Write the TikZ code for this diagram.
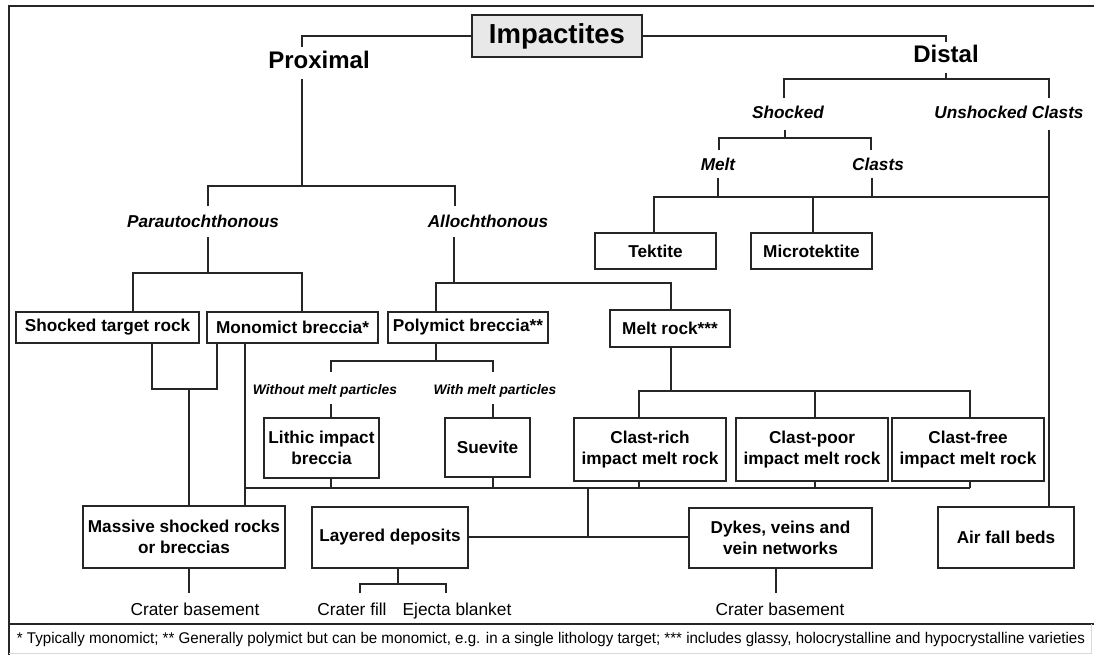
\documentclass[tikz,border=0pt]{standalone}
\usepackage{fontspec}
\setmainfont{Liberation Sans}
\usepackage{graphicx}
\begin{document}
\begin{tikzpicture}[x=1pt,y=-1pt,
  box/.style={draw=black!85, line width=1.5pt, inner sep=0pt, align=center,
    font=\bfseries\fontsize{17.2}{20.5}\selectfont},
  conn/.style={draw=black!85, line width=1.6pt},
  lbl/.style={font=\bfseries\itshape\fontsize{17.2}{20}\selectfont, anchor=base, inner sep=0pt},
  smalllbl/.style={font=\bfseries\itshape\fontsize{13.8}{16}\selectfont, anchor=base, inner sep=0pt},
  titlelbl/.style={font=\bfseries\fontsize{24}{28}\selectfont, anchor=base, inner sep=0pt},
  plainlbl/.style={font=\fontsize{17.3}{20}\selectfont, anchor=base, inner sep=0pt}]
\useasboundingbox (0,0) rectangle (1094,655);
\fill[white] (0,0) rectangle (1094,655);
% frame
\draw[line width=2pt, black!85] (1094,6) -- (9,6) -- (9,655);
\draw[line width=1.8pt, black!85] (9,624) -- (1094,624);
\draw[line width=1pt, black!15] (1091,624) -- (1091,653) -- (9,653);

% boxes
\node[box, fill=black!9, minimum width=170pt, minimum height=42pt,
  font=\bfseries\fontsize{27.5}{30}\selectfont] (impactites) at (557,36) {Impactites};
\node[box, minimum width=121pt, minimum height=36pt] (tektite) at (655.5,251) {Tektite};
\node[box, minimum width=121pt, minimum height=36pt] (microtektite) at (811.5,251) {Microtektite};
\node[box, minimum width=183pt, minimum height=31pt] (str) at (107.5,327.5) {Shocked target rock};
\node[box, minimum width=171pt, minimum height=31pt] (mono) at (292.5,327.5) {Monomict breccia*};
\node[box, minimum width=160pt, minimum height=31pt] (poly) at (468,327.5) {Polymict breccia**};
\node[box, minimum width=120pt, minimum height=37pt] (meltrock) at (670,328.5) {Melt rock***};
\node[box, minimum width=115pt, minimum height=60pt] (lithic) at (321.5,448) {Lithic impact\\breccia};
\node[box, minimum width=85pt, minimum height=59pt] (suevite) at (487.5,447.5) {Suevite};
\node[box, minimum width=152pt, minimum height=63pt] (crich) at (650,449.5) {Clast-rich\\impact melt rock};
\node[box, minimum width=152pt, minimum height=63pt] (cpoor) at (812,449.5) {Clast-poor\\impact melt rock};
\node[box, minimum width=152pt, minimum height=63pt] (cfree) at (968,449.5) {Clast-free\\impact melt rock};
\node[box, minimum width=202pt, minimum height=62pt] (massive) at (184,537) {Massive shocked rocks\\or breccias};
\node[box, minimum width=156pt, minimum height=61pt] (layered) at (390,537.5) {Layered deposits};
\node[box, minimum width=183pt, minimum height=60pt] (dykes) at (780.5,538) {Dykes, veins and\\vein networks};
\node[box, minimum width=136pt, minimum height=61pt] (airfall) at (1006,537.5) {Air fall beds};

% labels
\node[titlelbl] (proximal) at (319,68.5) {Proximal};
\node[titlelbl] (distal) at (946,63) {Distal};
\node[lbl] (shocked) at (788,119) {Shocked};
\node[lbl] (unshocked) at (1009,119) {Unshocked Clasts};
\node[lbl] (melt) at (718,171) {Melt};
\node[lbl] (clasts) at (878,171) {Clasts};
\node[lbl] (para) at (203,227) {Parautochthonous};
\node[lbl] (allo) at (488,227) {Allochthonous};
\node[smalllbl] (without) at (325,394) {Without melt particles};
\node[smalllbl] (with) at (495,394) {With melt particles};
\node[plainlbl] (basement1) at (195,615) {Crater basement};
\node[plainlbl] (fill) at (352,615) {Crater fill};
\node[plainlbl] (ejecta) at (457,615) {Ejecta blanket};
\node[plainlbl] (basement2) at (780,615) {Crater basement};
\node[anchor=base, inner sep=0pt] (footnote) at (551,643)
  {\resizebox{1068pt}{\height}{\fontsize{15.5}{17}\selectfont * Typically monomict; ** Generally polymict but can be monomict, e.g. in a single lithology target; *** includes glassy, holocrystalline and hypocrystalline varieties}};

% junction coordinates
\coordinate (pA) at (302,47);
\coordinate (dA) at (946,42);
\coordinate (pB) at (302,79);
\coordinate (pBar) at (302,186);
\coordinate (paraN) at (208,206);
\coordinate (alloN) at (455,206);
\coordinate (dB) at (946,73);
\coordinate (dBar) at (946,79);
\coordinate (shockN) at (784,98);
\coordinate (unshN) at (1049,98);
\coordinate (sB) at (785,130);
\coordinate (sBar) at (785,138);
\coordinate (meltN) at (719,150);
\coordinate (clastsN) at (871,150);
\coordinate (mB) at (718,178);
\coordinate (cB) at (872,178);
\coordinate (tekJ) at (654,197);
\coordinate (micJ) at (813,197);
\coordinate (unshJ) at (1049,197);
\coordinate (uB) at (1049,130);
\coordinate (paB) at (208,237);
\coordinate (paBar) at (208,273);
\coordinate (strJ) at (133,273);
\coordinate (monoJ) at (302,273);
\coordinate (alB) at (454,237);
\coordinate (alBar) at (454,283);
\coordinate (polyJ) at (436,283);
\coordinate (meltJ) at (671,283);
\coordinate (strB) at (152,389);
\coordinate (monoB) at (217,389);
\coordinate (massJ) at (189,389);
\coordinate (monoV) at (245,488);
\coordinate (lithJ) at (331,488);
\coordinate (suevJ) at (493,488);
\coordinate (layJ) at (588,488);
\coordinate (layBar) at (588,537);
\coordinate (crJ) at (639,488);
\coordinate (cpJ) at (815,488);
\coordinate (cfJ) at (970,488);
\coordinate (polyB) at (436,361);
\coordinate (withoutN) at (331,372);
\coordinate (withN) at (493,372);
\coordinate (wB) at (331,404);
\coordinate (wiB) at (493,404);
\coordinate (mrB) at (671,391);
\coordinate (crT) at (639,391);
\coordinate (cpT) at (815,391);
\coordinate (cfT) at (970,391);
\coordinate (mbB) at (189,593);
\coordinate (lyB) at (398,584);
\coordinate (fillN) at (360,593);
\coordinate (ejN) at (446,593);
\coordinate (dyB) at (776,593);

% connectors
\draw[conn] (impactites.west) -| (pA);
\draw[conn] (impactites.east) -| (dA);
\draw[conn] (pB) -- (pBar);
\draw[conn] (paraN) |- (pBar) -| (alloN);
\draw[conn] (dB) -- (dBar);
\draw[conn] (shockN) |- (dBar) -| (unshN);
\draw[conn] (sB) -- (sBar);
\draw[conn] (meltN) |- (sBar) -| (clastsN);
\draw[conn] (mB) -- (mB |- tekJ);
\draw[conn] (cB) -- (cB |- tekJ);
\draw[conn] (tektite.north -| tekJ) -- (tekJ) -- (unshJ);
\draw[conn] (micJ) -- (micJ |- microtektite.north);
\draw[conn] (uB) -- (uB |- airfall.north);
\draw[conn] (paB) -- (paBar);
\draw[conn] (strJ |- str.north) -- (strJ) -- (monoJ) -- (monoJ |- mono.north);
\draw[conn] (alB) -- (alBar);
\draw[conn] (polyJ |- poly.north) -- (polyJ) -- (meltJ) -- (meltJ |- meltrock.north);
\draw[conn] (strB |- str.south) -- (strB) -- (monoB) -- (monoB |- mono.south);
\draw[conn] (massJ) -- (massJ |- massive.north);
\draw[conn] (monoV |- mono.south) -- (monoV |- massive.north);
\draw[conn] (monoV) -- (cfJ);
\draw[conn] (lithJ |- lithic.south) -- (lithJ);
\draw[conn] (suevJ |- suevite.south) -- (suevJ);
\draw[conn] (crJ |- crich.south) -- (crJ);
\draw[conn] (cpJ |- cpoor.south) -- (cpJ);
\draw[conn] (cfJ |- cfree.south) -- (cfJ);
\draw[conn] (layJ) -- (layBar);
\draw[conn] (layered.east |- layBar) -- (dykes.west |- layBar);
\draw[conn] (polyB |- poly.south) -- (polyB);
\draw[conn] (withoutN) |- (polyB) -| (withN);
\draw[conn] (wB) -- (wB |- lithic.north);
\draw[conn] (wiB) -- (wiB |- suevite.north);
\draw[conn] (mrB |- meltrock.south) -- (mrB);
\draw[conn] (crT |- crich.north) -- (crT) -- (cfT) -- (cfT |- cfree.north);
\draw[conn] (cpT) -- (cpT |- cpoor.north);
\draw[conn] (mbB |- massive.south) -- (mbB);
\draw[conn] (lyB |- layered.south) -- (lyB);
\draw[conn] (fillN) |- (lyB) -| (ejN);
\draw[conn] (dyB |- dykes.south) -- (dyB);
\end{tikzpicture}
\end{document}
